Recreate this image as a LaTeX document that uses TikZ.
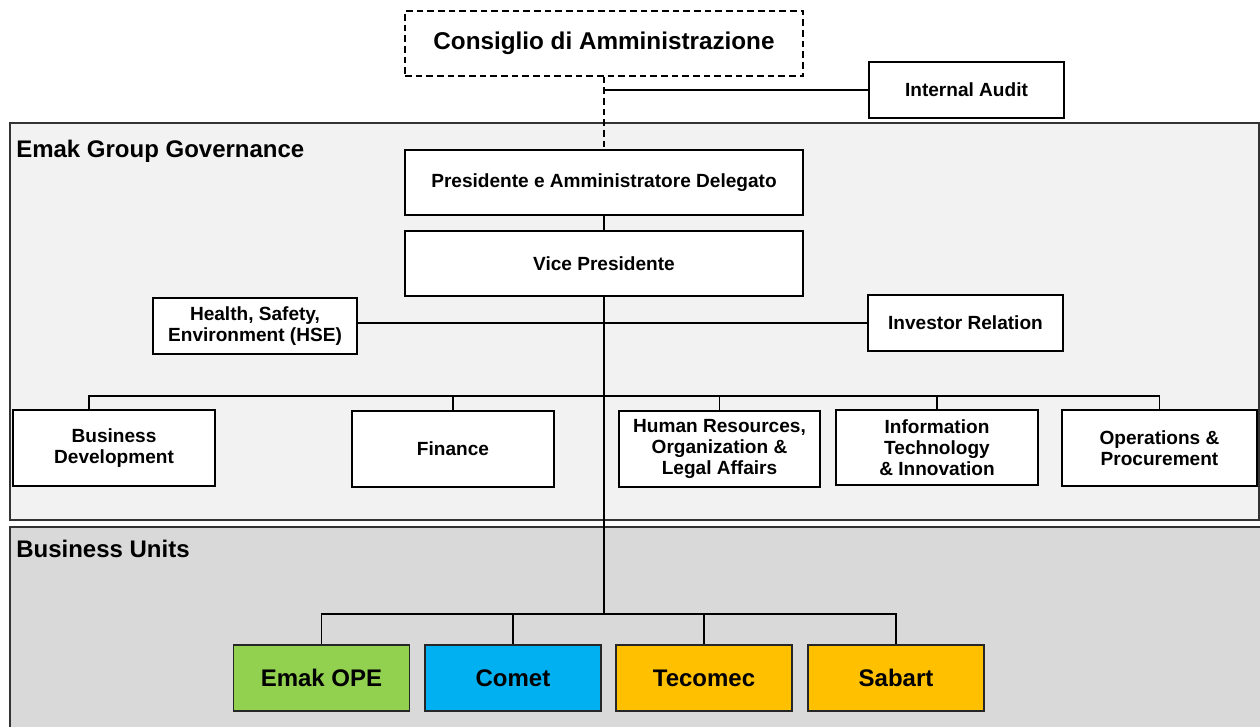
\documentclass[tikz,border=0pt]{standalone}
\usepackage{fontspec}
\setmainfont{Liberation Sans}
\usetikzlibrary{calc}
\definecolor{govfill}{HTML}{F2F2F2}
\definecolor{bufill}{HTML}{D9D9D9}
\definecolor{opegreen}{HTML}{92D050}
\definecolor{cometblue}{HTML}{00B0F0}
\definecolor{tecorange}{HTML}{FFC000}
\begin{document}
\begin{tikzpicture}[x=0.75pt,y=-0.75pt,
  region/.style={draw=black!80,line width=0.8pt},
  box/.style={draw=black,line width=0.9pt,fill=white,align=center,inner sep=1pt,font=\bfseries\fontsize{14.3pt}{15.6pt}\selectfont},
  bubox/.style={draw=black!85,line width=0.9pt,align=center,minimum width=132pt,minimum height=49.5pt,font=\bfseries\fontsize{18pt}{21pt}\selectfont},
  conn/.style={draw=black,line width=0.9pt},
  longdash/.style={dash pattern=on 5pt off 3pt},
  title/.style={anchor=west,inner sep=0pt,font=\bfseries\fontsize{18pt}{21pt}\selectfont}]
\useasboundingbox (0,0) rectangle (1260,727);
% regions
\draw[region,fill=bufill] (10,527) rectangle (1266,731);
\draw[region,fill=govfill] (10,123) rectangle (1259,520);
\node[title] (govt) at (16,151) {Emak Group Governance};
\node[title] (but) at (16,549) {Business Units};
% boxes
\node[box,longdash,minimum width=298.5pt,minimum height=48.75pt,font=\bfseries\fontsize{18.2pt}{21pt}\selectfont] (cda) at (604,43.5) {Consiglio di Amministrazione};
\node[box,minimum width=146.25pt,minimum height=42pt] (ia) at (966.5,90) {Internal Audit};
\node[box,minimum width=298.5pt,minimum height=48.75pt] (pres) at (604,182.5) {Presidente e Amministratore Delegato};
\node[box,minimum width=298.5pt,minimum height=48.75pt] (vp) at (604,263.5) {Vice Presidente};
\node[box,minimum width=153pt,minimum height=42pt] (hse) at (255,326) {Health, Safety,\\Environment (HSE)};
\node[box,minimum width=146.25pt,minimum height=42pt] (ir) at (965.5,323) {Investor Relation};
\node[box,minimum width=151.5pt,minimum height=57pt] (bd) at (114,448) {Business\\Development};
\node[box,minimum width=151.5pt,minimum height=57pt] (fin) at (453,449) {Finance};
\node[box,minimum width=150.75pt,minimum height=57pt] (hr) at (719.5,449) {Human Resources,\\Organization \&\\Legal Affairs};
\node[box,minimum width=151.5pt,minimum height=56.25pt] (it) at (937,447.5) {Information\\Technology\\\& Innovation};
\node[box,minimum width=146.25pt,minimum height=57pt] (ops) at (1159.5,448) {Operations \&\\Procurement};
\node[bubox,fill=opegreen] (ope) at (321.5,678) {Emak OPE};
\node[bubox,fill=cometblue] (comet) at (513,678) {Comet};
\node[bubox,fill=tecorange] (tec) at (704,678) {Tecomec};
\node[bubox,fill=tecorange] (sab) at (896,678) {Sabart};
% connectors
\coordinate (govbus) at (604,396);
\coordinate (bubus) at (604,614);
\coordinate (bddrop) at ($(bd.north)+(-25,0)$);
\draw[conn,longdash] (cda.south) -- (pres.north);
\draw[conn] (ia.west) -- (ia.west -| cda.south);
\draw[conn] (pres.south) -- (vp.north);
\draw[conn] (vp.south) -- (bubus);
\draw[conn] (ir.west) -- (ir.west -| hse.east);
\draw[conn] (bddrop) |- (govbus) -| (ops.north);
\draw[conn] (fin.north) -- (fin.north |- govbus);
\draw[conn] (hr.north) -- (hr.north |- govbus);
\draw[conn] (it.north) -- (it.north |- govbus);
\draw[conn] (ope.north) |- (bubus) -| (sab.north);
\draw[conn] (comet.north) -- (comet.north |- bubus);
\draw[conn] (tec.north) -- (tec.north |- bubus);
\end{tikzpicture}
\end{document}
